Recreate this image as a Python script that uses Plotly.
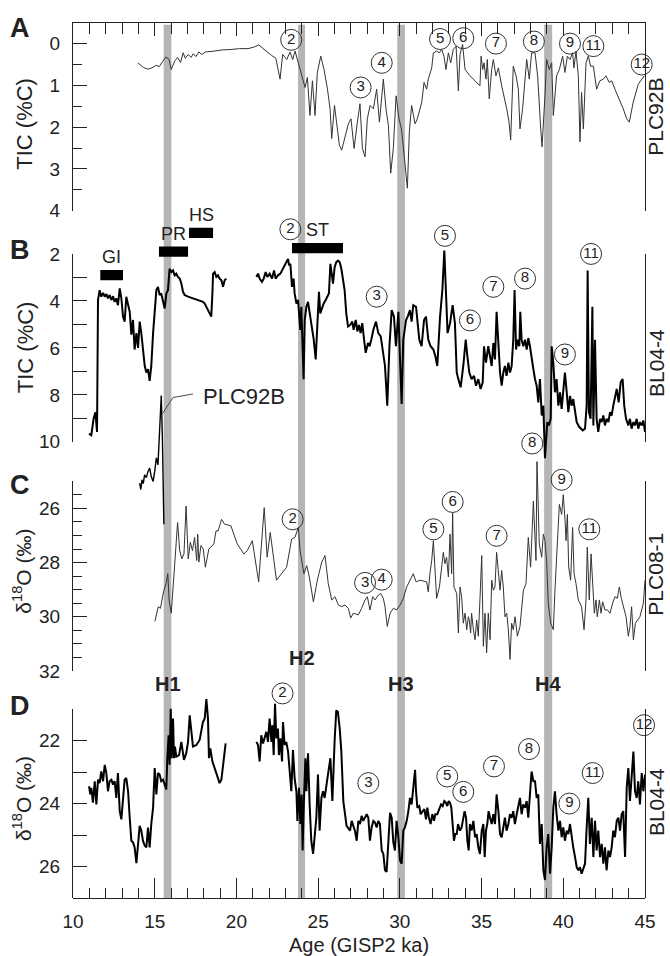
import plotly.graph_objects as go

FONT = "Liberation Sans, Arial, sans-serif"
INK = "#222222"

# ---------------- data ----------------
# Panel A: PLC92B TIC (%C)
A_age = [13.97, 14.31, 14.57, 14.83, 15.09, 15.28, 15.48, 15.69, 15.88, 16.01, 16.22, 16.40, 16.58, 16.74,
         16.87, 17.05, 17.23, 17.36, 17.52, 17.70, 17.89, 18.10, 18.62, 19.14, 19.66, 20.19, 20.71, 21.10,
         21.36, 21.62, 21.88, 22.14, 22.41, 22.67, 22.83, 23.08, 23.28, 23.44, 23.59, 23.79, 24.00, 24.20,
         24.34, 24.50, 24.65, 24.81, 24.95, 25.16, 25.36, 25.57, 25.73, 25.83, 26.00, 26.14, 26.30, 26.44,
         26.65, 26.85, 27.01, 27.20, 27.40, 27.56, 27.71, 27.87, 28.01, 28.18, 28.38, 28.58, 28.75, 28.89,
         28.99, 29.15, 29.30, 29.44, 29.60, 29.77, 29.95, 30.11, 30.26, 30.46, 30.58, 30.72, 30.93, 31.07,
         31.34, 31.48, 31.64, 31.74, 31.95, 32.05, 32.25, 32.42, 32.56, 32.70, 32.82, 32.97, 33.11, 33.27,
         33.44, 33.58, 33.68, 33.84, 33.99, 34.29, 34.60, 34.90, 34.97, 35.07, 35.15, 35.27, 35.35, 35.47,
         35.62, 35.72, 35.88, 36.03, 36.23, 36.37, 36.54, 36.68, 36.78, 36.94, 37.11, 37.25, 37.35, 37.51,
         37.76, 37.92, 38.06, 38.27, 38.43, 38.62, 38.70, 38.88, 38.98, 39.15, 39.29, 39.39, 39.59, 39.76,
         39.96, 40.10, 40.25, 40.41, 40.57, 40.65, 40.78, 40.92, 41.02, 41.12, 41.23, 41.39, 41.53, 41.67,
         41.84, 42.04, 42.24, 42.45, 42.61, 42.81, 42.96, 43.16, 43.37, 43.51, 43.67, 43.88, 44.04, 44.28,
         44.59, 44.96]
A_tic = [0.46, 0.57, 0.61, 0.58, 0.52, 0.55, 0.43, 0.32, 0.38, 0.62, 0.42, 0.33, 0.45, 0.22,
         0.35, 0.26, 0.33, 0.24, 0.31, 0.20, 0.26, 0.20, 0.18, 0.15, 0.14, 0.12, 0.12, 0.08,
         0.03, 0.12, 0.20, 0.28, 0.35, 0.85, 0.26, 0.38, 0.20, 0.38, 0.18, 0.46, 0.73, 1.05,
         0.81, 1.72, 0.89, 1.72, 0.69, 0.30, 0.62, 1.09, 1.56, 2.27, 1.48, 1.88, 2.43, 2.55,
         2.19, 1.92, 1.80, 2.51, 1.88, 1.44, 2.51, 2.71, 1.80, 1.48, 1.56, 1.09, 1.88, 1.25,
         0.85, 1.56, 1.96, 3.10, 2.51, 1.25, 1.80, 2.07, 2.67, 3.46, 2.11, 1.48, 1.92, 1.80,
         1.40, 0.93, 1.09, 0.85, 0.58, 0.22, 0.18, 0.22, 0.14, 0.30, 0.62, 0.22, 0.46, 0.14,
         0.06, 1.13, 0.26, 0.02, 0.62, 0.77, 0.89, 1.01, 0.30, 0.62, 0.46, 0.85, 0.38, 1.32,
         0.62, 0.38, 0.77, 0.58, 1.01, 1.25, 1.56, 1.88, 2.31, 0.54, 0.77, 1.09, 2.04, 1.56,
         0.38, 0.85, 0.22, 0.22, 0.77, 2.04, 2.47, 1.25, 0.38, 0.62, 0.46, 1.72, 0.77, 0.62,
         0.30, 0.69, 0.30, 0.38, 0.22, 0.58, 0.18, 0.77, 2.35, 1.17, 2.04, 0.46, 0.30, 0.54,
         0.54, 1.09, 0.89, 0.85, 0.77, 0.93, 0.89, 1.09, 1.28, 1.40, 1.56, 1.80, 1.88, 1.40,
         0.97, 0.77]

# Panel B: BL04-4 TIC (%C)  (None = core gap)
B_age = [10.98, 11.12, 11.26, 11.37, 11.47, 11.53, 11.63, 11.73, 11.84, 11.94, 12.04, 12.14, 12.24, 12.35,
         12.45, 12.55, 12.65, 12.75, 12.86, 12.96, 13.06, 13.16, 13.26, 13.37, 13.47, 13.57, 13.67, 13.77,
         13.88, 13.98, 14.08, 14.18, 14.28, 14.39, 14.49, 14.59, 14.69, 14.79, 14.90, 15.00, 15.10, 15.20,
         15.30, 15.40, 15.51, 15.61, 15.71, 15.81, 15.91, 16.02, 16.12, 16.22, 16.32, 16.42, 16.53, 16.63,
         16.73, 16.83, 17.04, 17.34, 17.75, 17.95, 18.06, 18.16, 18.26, 18.36, 18.46, 18.53, 18.57, 18.67,
         18.77, 18.87, 18.97, 19.08, 19.18, 19.28, 19.38, None,
         21.22, 21.32, 21.42, 21.56, 21.67, 21.79, 21.89, 22.03, 22.18, 22.30, 22.40, 22.54, 22.69, 22.81,
         22.95, 23.05, 23.16, 23.22, 23.30, 23.40, 23.50, 23.56, 23.67, 23.77, 23.83, 23.91, 23.97, 24.03,
         24.11, 24.18, 24.28, 24.38, 24.48, 24.64, 24.73, 24.85, 24.95, 25.05, 25.13, 25.26, 25.34, 25.46,
         25.54, 25.66, 25.75, 25.83, 25.91, 26.01, 26.11, 26.22, 26.32, 26.42, 26.52, 26.62, 26.72, 26.83,
         26.97, 27.09, 27.17, 27.30, 27.40, 27.50, 27.60, 27.70, 27.81, 27.91, 28.05, 28.15, 28.25, 28.38,
         28.54, 28.68, 28.83, 28.99, 29.09, 29.23, 29.36, 29.50, 29.64, 29.76, 29.91, 30.01, 30.11, 30.21,
         30.38, 30.48, 30.62, 30.72, 30.82, 30.99, 31.07, 31.19, 31.33, 31.48, 31.60, 31.74, 31.88, 32.05,
         32.17, 32.29, 32.46, 32.60, 32.72, 32.82, 32.92, 33.07, 33.23, 33.37, 33.48, 33.58, 33.72, 33.88,
         34.03, 34.13, 34.25, 34.39, 34.54, 34.66, 34.80, 34.94, 35.07, 35.15, 35.27, 35.41, 35.52, 35.62,
         35.72, 35.82, 35.92, 36.03, 36.13, 36.23, 36.33, 36.43, 36.53, 36.64, 36.74, 36.84, 36.94, 37.02,
         37.11, 37.21, 37.31, 37.37, 37.45, 37.55, 37.66, 37.76, 37.86, 37.96, 38.06, 38.17, 38.27, 38.37,
         38.47, 38.57, 38.68, 38.78, 38.88, 38.94, 39.02, 39.12, 39.23, 39.29, 39.39, 39.49, 39.59, 39.70,
         39.80, 39.90, 40.00, 40.10, 40.21, 40.31, 40.41, 40.51, 40.61, 40.72, 40.82, 40.98, 41.19, 41.33,
         41.43, 41.49, 41.57, 41.67, 41.78, 41.84, 41.94, 42.04, 42.14, 42.25, 42.35, 42.45, 42.55, 42.65,
         42.76, 42.86, 42.96, 43.06, 43.16, 43.27, 43.39, 43.51, 43.63, 43.73, 43.84, 43.98, 44.08, 44.18,
         44.29, 44.39, 44.49, 44.59, 44.69, 44.80, 44.90, 45.00]
B_tic = [9.65, 9.72, 9.02, 8.74, 9.58, 3.96, 3.54, 3.82, 3.66, 3.82, 3.71, 3.89, 3.75, 3.96,
         3.80, 4.04, 3.89, 4.18, 3.47, 3.89, 4.67, 4.88, 3.82, 4.11, 4.46, 5.44, 4.81, 6.07,
         5.37, 6.00, 4.88, 5.37, 6.21, 6.77, 7.05, 6.91, 7.40, 6.77, 5.37, 4.25, 3.54, 3.40,
         3.75, 3.68, 4.11, 4.32, 3.68, 3.54, 2.63, 2.77, 2.70, 2.91, 2.84, 2.98, 3.05, 3.26,
         3.61, 3.75, 3.82, 3.89, 3.99, 4.04, 4.11, 4.25, 4.39, 4.53, 4.67, 3.68, 2.84, 2.77,
         2.98, 2.91, 3.05, 3.12, 3.40, 3.12, 3.05, None,
         2.98, 2.84, 3.05, 3.19, 3.05, 2.77, 2.98, 2.84, 3.05, 2.70, 3.05, 2.91, 2.84, 2.70,
         2.49, 2.35, 2.21, 2.49, 2.42, 3.40, 3.05, 3.68, 4.11, 3.96, 4.39, 5.23, 4.25, 5.86,
         7.33, 4.81, 4.25, 4.04, 4.53, 5.37, 5.65, 6.49, 4.81, 3.61, 4.53, 4.25, 4.11, 3.96,
         3.82, 3.68, 2.42, 2.98, 3.26, 2.56, 2.35, 2.28, 2.35, 2.63, 3.05, 3.54, 4.53, 5.09,
         5.02, 4.88, 5.23, 4.81, 5.30, 5.02, 5.37, 4.95, 5.65, 6.21, 5.79, 5.93, 5.65, 5.23,
         4.88, 5.37, 5.51, 6.21, 6.77, 8.46, 5.96, 4.39, 4.67, 5.93, 4.46, 6.49, 8.39, 5.65,
         4.81, 4.67, 4.39, 4.88, 4.18, 4.25, 4.81, 5.65, 5.93, 4.81, 4.67, 5.65, 5.93, 6.07,
         6.35, 6.77, 4.67, 3.54, 1.86, 3.54, 5.37, 4.95, 4.18, 4.95, 7.05, 7.33, 7.68, 6.77,
         5.65, 6.35, 7.05, 7.33, 7.19, 7.61, 7.33, 7.75, 7.47, 5.93, 6.63, 5.93, 6.35, 6.77,
         5.79, 6.49, 4.46, 5.93, 7.05, 7.61, 7.05, 6.77, 7.19, 6.63, 7.05, 6.77, 5.65, 3.54,
         6.07, 5.65, 5.93, 4.46, 5.65, 5.93, 5.65, 6.07, 5.58, 5.93, 6.49, 6.91, 7.33, 7.61,
         8.32, 7.33, 8.88, 8.46, 10.70, 9.86, 9.16, 9.30, 9.02, 5.93, 6.63, 7.89, 7.33, 8.46,
         7.89, 8.60, 7.75, 7.05, 7.89, 8.74, 8.04, 8.46, 8.18, 8.74, 9.16, 9.37, 9.51, 9.44,
         8.46, 2.70, 8.74, 9.02, 4.25, 9.30, 5.65, 9.02, 9.58, 9.02, 9.16, 8.88, 9.30, 9.02,
         9.16, 8.74, 8.88, 8.46, 8.18, 7.75, 8.32, 7.47, 7.33, 8.46, 9.02, 9.30, 9.02, 9.44,
         9.16, 9.30, 9.02, 9.44, 9.16, 9.30, 9.09, 9.58]

# Panel C: PLC08-1 d18O (permil)
C_age = [15.01, 15.22, 15.35, 15.54, 15.69, 15.80, 15.88, 16.01, 16.14, 16.27, 16.40, 16.53, 16.66, 16.79,
         16.92, 17.05, 17.18, 17.31, 17.44, 17.57, 17.63, 17.70, 17.83, 17.97, 18.10, 18.31, 18.62, 18.75,
         18.88, 19.09, 19.27, 19.66, 20.05, 20.45, 20.66, 20.97, 21.36, 21.70, 21.88, 22.07, 22.45, 23.07,
         23.38, 23.58, 23.73, 23.79, 23.89, 24.03, 24.13, 24.30, 24.46, 24.71, 24.95, 25.22, 25.42, 25.62,
         25.83, 26.03, 26.24, 26.44, 26.64, 26.85, 26.99, 27.15, 27.46, 27.66, 27.87, 28.01, 28.17, 28.34,
         28.48, 28.68, 28.83, 28.99, 29.09, 29.23, 29.40, 29.60, 29.80, 30.01, 30.21, 30.42, 30.62, 30.82,
         30.99, 31.23, 31.64, 31.74, 31.84, 31.95, 32.05, 32.15, 32.25, 32.42, 32.56, 32.66, 32.76, 32.86,
         32.97, 33.07, 33.17, 33.23, 33.31, 33.48, 33.58, 33.68, 33.78, 33.88, 33.99, 34.09, 34.19, 34.25,
         34.33, 34.39, 34.50, 34.60, 34.70, 34.80, 34.90, 35.01, 35.11, 35.21, 35.31, 35.41, 35.52, 35.62,
         35.72, 35.82, 35.92, 36.03, 36.13, 36.23, 36.33, 36.43, 36.54, 36.64, 36.74, 36.84, 36.94, 37.05,
         37.19, 37.35, 37.56, 37.72, 37.86, 38.00, 38.17, 38.33, 38.39, 38.53, 38.68, 38.78, 38.88, 38.98,
         39.08, 39.23, 39.39, 39.49, 39.64, 39.76, 39.90, 40.00, 40.11, 40.17, 40.25, 40.33, 40.45, 40.57,
         40.66, 40.78, 40.92, 41.12, 41.27, 41.39, 41.47, 41.59, 41.70, 41.80, 41.90, 42.00, 42.08, 42.21,
         42.31, 42.41, 42.55, 42.70, 42.86, 43.02, 43.16, 43.31, 43.43, 43.55, 43.67, 43.84, 43.98, 44.08,
         44.18, 44.29, 44.41, 44.53, 44.69, 44.90, 45.00]
C_d18o = [30.17, 29.63, 29.69, 29.08, 28.78, 28.41, 29.38, 29.87, 28.78, 27.43, 26.52, 27.56, 27.86, 27.68,
          25.91, 27.86, 27.25, 27.56, 27.07, 27.92, 26.95, 27.98, 27.37, 27.50, 28.17, 27.50, 27.31, 26.83,
          26.83, 26.40, 26.58, 26.64, 27.31, 27.68, 27.56, 27.19, 28.71, 25.97, 27.80, 26.89, 28.65, 28.17,
          27.13, 27.07, 26.76, 26.70, 27.56, 28.17, 28.41, 28.11, 28.53, 29.45, 28.65, 27.98, 27.74, 28.78,
          29.38, 29.26, 29.57, 29.63, 29.57, 29.69, 30.05, 29.87, 29.93, 29.69, 29.38, 29.26, 29.75, 29.26,
          29.38, 29.20, 29.14, 29.32, 29.63, 30.36, 29.87, 29.69, 29.75, 29.57, 29.32, 28.90, 28.65, 28.41,
          28.71, 28.65, 28.71, 29.08, 28.41, 27.92, 27.19, 28.41, 29.32, 28.90, 28.17, 27.62, 28.04, 27.80,
          28.53, 26.95, 28.41, 26.16, 28.90, 29.14, 30.60, 28.90, 29.26, 30.24, 29.87, 30.48, 30.00, 30.12,
          30.60, 29.87, 30.48, 30.85, 30.12, 30.72, 29.38, 27.74, 31.09, 29.87, 31.33, 29.87, 30.85, 28.65,
          29.02, 28.90, 27.62, 28.41, 29.02, 28.29, 28.90, 30.00, 29.87, 30.48, 31.58, 30.24, 30.48, 30.00,
          30.72, 30.36, 29.02, 28.78, 27.07, 28.17, 25.73, 27.92, 24.27, 27.31, 27.80, 26.95, 27.19, 27.92,
          29.50, 30.24, 30.48, 29.02, 27.19, 25.85, 26.22, 25.49, 26.46, 27.19, 26.22, 28.17, 28.65, 26.70,
          28.41, 28.78, 29.38, 29.63, 30.48, 29.38, 27.43, 29.38, 27.68, 28.78, 29.87, 29.38, 30.00, 29.38,
          29.87, 29.45, 29.75, 29.75, 29.87, 29.50, 29.26, 29.32, 28.90, 29.32, 29.63, 30.00, 30.72, 30.36,
          29.63, 30.85, 30.24, 30.12, 30.00, 29.50, 28.65]

# PLC92B d18O inset (plotted on the panel C scale)
inset_age = [14.08, 14.15, 14.22, 14.30, 14.38, 14.49, 14.59, 14.69, 14.79, 14.90, 15.00, 15.10, 15.20,
             15.30, 15.40, 15.47, 15.51, 15.56]
inset_d18o = [25.06, 25.30, 24.94, 25.08, 24.76, 24.86, 24.63, 24.51, 24.82, 25.00, 24.63, 24.13, 24.39,
              22.81, 21.83, 23.40, 25.12, 26.58]

# Panel D: BL04-4 d18O (permil)
D_age = [10.98, 11.06, 11.12, 11.22, 11.33, 11.43, 11.53, 11.63, 11.73, 11.84, 11.94, 12.04, 12.14, 12.24,
         12.35, 12.45, 12.55, 12.65, 12.75, 12.86, 12.96, 13.06, 13.16, 13.26, 13.37, 13.47, 13.57, 13.67,
         13.77, 13.88, 13.98, 14.08, 14.18, 14.28, 14.39, 14.49, 14.59, 14.69, 14.79, 14.90, 15.00, 15.10,
         15.20, 15.30, 15.40, 15.51, 15.61, 15.71, 15.77, 15.85, 15.91, 15.98, 16.04, 16.12, 16.18, 16.24,
         16.32, 16.49, 16.63, 16.79, 16.93, 17.04, 17.14, 17.24, 17.34, 17.55, 17.75, 17.95, 18.06, 18.16,
         18.26, 18.32, 18.40, 18.53, 18.67, 18.77, 18.87, 18.97, 19.08, 19.14, 19.22, 19.34, None,
         21.22, 21.32, 21.42, 21.52, 21.63, 21.73, 21.83, 21.93, 22.03, 22.14, 22.20, 22.28, 22.36, 22.44,
         22.54, 22.60, 22.69, 22.79, 22.85, 22.95, 23.05, 23.16, 23.26, 23.36, 23.46, 23.56, 23.67, 23.73,
         23.83, 23.91, 23.99, 24.05, 24.13, 24.22, 24.28, 24.38, 24.48, 24.58, 24.69, 24.79, 24.89, 24.99,
         25.09, 25.20, 25.30, 25.40, 25.50, 25.60, 25.75, 25.87, 26.01, 26.11, 26.21, 26.32, 26.42, 26.54,
         26.74, 26.95, 27.05, 27.25, 27.36, 27.46, 27.56, 27.66, 27.76, 27.87, 27.97, 28.07, 28.17, 28.27,
         28.38, 28.48, 28.58, 28.68, 28.78, 28.89, 28.99, 29.09, 29.19, 29.29, 29.40, 29.50, 29.60, 29.70,
         29.80, 29.91, 30.01, 30.11, 30.21, 30.31, 30.42, 30.52, 30.62, 30.72, 30.82, 30.93, 30.99, 31.07,
         31.19, 31.27, 31.40, 31.50, 31.60, 31.68, 31.78, 31.88, 31.99, 32.09, 32.17, 32.29, 32.41, 32.52,
         32.62, 32.72, 32.82, 32.90, 32.99, 33.07, 33.15, 33.23, 33.31, 33.39, 33.48, 33.56, 33.68, 33.78,
         33.88, 33.96, 34.05, 34.13, 34.21, 34.29, 34.39, 34.50, 34.60, 34.70, 34.80, 34.90, 35.01, 35.11,
         35.19, 35.27, 35.35, 35.43, 35.52, 35.62, 35.72, 35.82, 35.92, 36.03, 36.13, 36.23, 36.33, 36.43,
         36.53, 36.64, 36.74, 36.84, 36.94, 37.04, 37.15, 37.25, 37.35, 37.45, 37.55, 37.66, 37.76, 37.86,
         37.96, 38.06, 38.17, 38.27, 38.37, 38.47, 38.57, 38.68, 38.78, 38.88, 38.98, 39.08, 39.19, 39.29,
         39.39, 39.49, 39.59, 39.70, 39.80, 39.90, 40.00, 40.10, 40.21, 40.31, 40.41, 40.51, 40.61, 40.72,
         40.82, 40.92, 41.02, 41.12, 41.23, 41.33, 41.43, 41.53, 41.63, 41.74, 41.84, 41.94, 42.04, 42.14,
         42.25, 42.35, 42.45, 42.55, 42.65, 42.76, 42.86, 42.96, 43.06, 43.16, 43.27, 43.37, 43.47, 43.57,
         43.67, 43.78, 43.88, 43.98, 44.08, 44.18, 44.29, 44.39, 44.49, 44.59, 44.69, 44.80, 44.90, 45.00]
D_d18o = [23.45, 23.71, 23.50, 23.97, 23.29, 24.03, 23.24, 23.35, 22.98, 23.29, 22.77, 23.03, 23.61, 23.29,
          23.24, 23.40, 23.29, 23.82, 23.03, 24.24, 24.50, 23.82, 23.24, 23.19, 23.61, 24.45, 25.18, 25.23,
          25.39, 25.89, 25.18, 24.71, 24.86, 25.18, 25.34, 25.39, 24.76, 25.39, 24.65, 24.13, 22.87, 23.71,
          23.03, 23.08, 23.29, 23.24, 23.40, 23.55, 22.56, 21.83, 22.77, 20.99, 22.56, 21.30, 22.56, 22.19,
          22.51, 22.46, 22.04, 22.61, 22.40, 22.04, 21.20, 21.83, 22.19, 22.14, 21.98, 21.41, 21.30, 20.68,
          21.30, 22.56, 22.25, 22.66, 22.87, 23.08, 23.24, 23.35, 23.24, 22.98, 22.56, 22.09, None,
          22.04, 22.14, 22.66, 21.83, 22.09, 21.93, 21.72, 22.04, 21.30, 22.04, 21.51, 22.46, 20.83, 21.93,
          21.62, 22.46, 21.93, 22.66, 21.41, 22.14, 22.04, 22.35, 22.87, 23.61, 22.30, 23.19, 23.61, 24.55,
          23.50, 24.65, 23.71, 25.49, 23.92, 22.56, 23.61, 22.40, 24.03, 25.18, 25.60, 24.97, 24.45, 23.08,
          24.86, 23.82, 23.61, 23.82, 23.40, 23.08, 22.56, 23.92, 21.98, 21.04, 21.09, 21.62, 22.35, 23.92,
          24.71, 24.86, 24.55, 24.86, 25.18, 24.55, 24.65, 24.39, 24.55, 24.45, 24.34, 24.45, 25.18, 24.76,
          24.55, 24.60, 24.76, 24.55, 24.65, 25.49, 25.60, 26.12, 26.17, 25.28, 24.29, 24.45, 25.23, 25.49,
          24.55, 25.07, 25.81, 25.91, 24.86, 24.76, 24.55, 24.24, 23.82, 24.03, 23.50, 22.93, 23.61, 24.13,
          24.08, 24.34, 24.24, 24.18, 24.50, 24.13, 24.45, 24.65, 24.34, 24.55, 24.34, 24.34, 24.18, 24.03,
          24.08, 23.92, 23.97, 24.08, 23.92, 23.97, 24.13, 24.65, 25.18, 24.97, 24.97, 24.65, 24.86, 24.76,
          24.45, 24.24, 24.45, 25.18, 25.49, 24.65, 24.86, 24.55, 25.07, 24.97, 25.39, 25.60, 24.86, 24.65,
          25.70, 24.86, 24.65, 24.24, 24.45, 24.65, 24.34, 24.65, 23.71, 24.24, 24.97, 25.07, 24.76, 24.45,
          24.86, 24.65, 24.34, 24.45, 24.24, 24.65, 24.34, 24.13, 23.82, 24.34, 24.03, 24.13, 23.92, 24.45,
          23.61, 22.98, 23.29, 23.29, 23.82, 23.71, 25.28, 24.65, 26.12, 26.43, 25.39, 24.97, 26.23, 25.39,
          24.13, 23.61, 24.34, 24.86, 24.55, 25.07, 24.76, 25.18, 24.86, 24.97, 24.65, 25.07, 25.39, 25.70,
          26.02, 26.12, 26.02, 26.23, 26.02, 25.91, 24.76, 23.82, 25.28, 24.45, 25.70, 24.55, 25.49, 24.86,
          25.70, 25.28, 25.91, 25.39, 26.12, 25.49, 25.70, 25.39, 24.86, 25.07, 24.55, 24.45, 24.86, 24.34,
          24.24, 25.70, 23.50, 22.87, 23.92, 23.08, 22.35, 23.61, 23.82, 23.29, 24.03, 23.03, 23.61, 23.08]

# Heinrich events (ka)
heinrich_names = ["H1", "H2", "H3", "H4"]
heinrich_start = [15.55, 23.77, 29.84, 38.83]
heinrich_end = [16.02, 24.20, 30.31, 39.32]

# Interval bars (ka)
bar_names = ["GI", "PR", "HS", "ST"]
bar_start = [11.67, 15.26, 17.10, 23.40]
bar_end = [13.06, 17.04, 18.57, 26.52]

# Numbered events: (age, value) on each panel
A_ev = ["2", "3", "4", "5", "6", "7", "8", "9", "11", "12"]
A_ev_age = [23.35, 27.60, 28.89, 32.46, 33.88, 35.88, 38.20, 40.41, 41.84, 44.80]
A_ev_val = [-0.09, 1.05, 0.46, -0.11, -0.13, 0.00, -0.05, 0.00, 0.06, 0.50]
B_ev = ["2", "3", "5", "6", "7", "8", "9", "11"]
B_ev_age = [23.30, 28.58, 32.76, 34.29, 35.72, 37.66, 40.10, 41.70]
B_ev_val = [0.95, 3.82, 1.23, 4.83, 3.40, 3.05, 6.28, 2.00]
C_ev = ["2", "3", "4", "5", "6", "7", "8", "9", "11"]
C_ev_age = [23.44, 27.87, 28.89, 32.05, 33.23, 35.92, 38.10, 39.90, 41.59]
C_ev_val = [26.40, 28.75, 28.63, 26.77, 25.76, 27.01, 23.60, 24.94, 26.77]
D_ev = ["2", "3", "5", "6", "7", "8", "9", "11", "12"]
D_ev_age = [22.82, 28.07, 32.90, 33.88, 35.76, 37.90, 40.37, 41.80, 44.94]
D_ev_val = [20.50, 23.35, 23.14, 23.63, 22.82, 22.27, 24.00, 23.03, 21.51]

x_ticks = [10, 15, 20, 25, 30, 35, 40, 45]

# ---------------- layout helpers ----------------
W, H = 670, 956
ML, MR, MT, MB = 73, 25, 0, 58
PW, PH = W - ML - MR, H - MT - MB


def py(p):
    return (H - MB - p) / PH


def pxp(p):
    return (p - ML) / PW


def geom(v1, p1, v2, p2, vtop, vbot):
    s = (p2 - p1) / (v2 - v1)
    ptop = p1 + (vtop - v1) * s
    pbot = p1 + (vbot - v1) * s
    return dict(domain=[py(pbot), py(ptop)], range=[vbot, vtop])


A_map = (0, 34, 4, 203)
B_map = (2, 246.7, 10, 436.7)
C_map = (25, 476.7, 32, 668.3)
D_map = (21, 707, 27, 898)

fig = go.Figure()

thin = dict(color="#333333", width=1)
thick = dict(color="black", width=2)
fig.add_trace(go.Scatter(x=A_age, y=A_tic, xaxis="x2", yaxis="y", mode="lines", line=thin))
fig.add_trace(go.Scatter(x=B_age, y=B_tic, xaxis="x", yaxis="y2", mode="lines", line=thick, connectgaps=False))
fig.add_trace(go.Scatter(x=C_age, y=C_d18o, xaxis="x", yaxis="y3", mode="lines", line=thin))
fig.add_trace(go.Scatter(x=inset_age, y=inset_d18o, xaxis="x", yaxis="y3", mode="lines",
                         line=dict(color="black", width=1.4)))
leader_age = [15.47, 16.12, 17.34]
leader_val = [22.50, 21.90, 21.77]
fig.add_trace(go.Scatter(x=leader_age, y=leader_val, xaxis="x", yaxis="y3", mode="lines",
                         line=dict(color="#333333", width=0.9)))
fig.add_trace(go.Scatter(x=D_age, y=D_d18o, xaxis="x", yaxis="y4", mode="lines", line=thick, connectgaps=False))

# invisible anchors so the bracket (tick) axes of panels B-D get drawn
for ax, yv in [("y5", 6), ("y6", 28), ("y7", 24)]:
    fig.add_trace(go.Scatter(x=[27], y=[yv], xaxis="x", yaxis=ax, mode="markers",
                             marker=dict(size=1, opacity=0)))

for labels, xs, ys, ax in [(A_ev, A_ev_age, A_ev_val, "y"), (B_ev, B_ev_age, B_ev_val, "y2"),
                           (C_ev, C_ev_age, C_ev_val, "y3"), (D_ev, D_ev_age, D_ev_val, "y4")]:
    fig.add_trace(go.Scatter(
        x=xs, y=ys, text=labels, xaxis="x2" if ax == "y" else "x", yaxis=ax,
        mode="markers+text", textposition="middle center", cliponaxis=False,
        textfont=dict(family=FONT, size=15, color=INK),
        marker=dict(symbol="circle-open", size=21, color="#333333", line=dict(width=1, color="#333333"))))

# ---------------- shapes ----------------
shapes = []
for s, e in zip(heinrich_start, heinrich_end):
    shapes.append(dict(type="rect", xref="x", yref="paper", x0=s, x1=e, y0=0, y1=py(15),
                       fillcolor="#b5b5b5", line=dict(width=0), layer="below"))
bar_level = [2.9, 1.9, 1.1, 1.75]
for s, e, lv in zip(bar_start, bar_end, bar_level):
    shapes.append(dict(type="rect", xref="x", yref="y2", x0=s, x1=e, y0=lv - 0.22, y1=lv + 0.22,
                       fillcolor="black", line=dict(width=0), layer="above"))

# ---------------- annotations ----------------
ann = []


def text(x, y, t, size=20, bold=False, angle=0, xref="paper", yref="paper", xanchor="center", yanchor="middle"):
    ann.append(dict(x=x, y=y, xref=xref, yref=yref, text=("<b>%s</b>" % t) if bold else t, showarrow=False,
                    textangle=angle, xanchor=xanchor, yanchor=yanchor,
                    font=dict(family=FONT, size=size, color=INK)))


for letter, ypix in zip(["A", "B", "C", "D"], [18, 243, 480, 704]):
    text(pxp(20), py(ypix), letter, size=27, bold=True)
text(pxp(25), py(115), "TIC (%C)", size=22, angle=-90)
text(pxp(25), py(341), "TIC (%C)", size=22, angle=-90)
text(pxp(22), py(568), "δ<sup>18</sup>O (‰)", size=21, angle=-90)
text(pxp(22), py(798), "δ<sup>18</sup>O (‰)", size=21, angle=-90)
for lab, ypix in zip(["PLC92B", "BL04-4", "PLC08-1", "BL04-4"], [108, 357, 571, 801]):
    text(pxp(656), py(ypix), lab, size=21, angle=-90)
text(pxp(359), py(946), "Age (GISP2 ka)", size=20)
for nm, s, e, ypix in zip(heinrich_names, heinrich_start, heinrich_end, [682, 655, 682, 682]):
    text((s + e) / 2, py(ypix), nm, size=20, bold=True, xref="x")
for nm, s, e, lv in zip(bar_names, bar_start, bar_end, bar_level):
    text((s + e) / 2, lv - 0.75, nm, size=18, xref="x", yref="y2")
text(17.85, 21.85, "PLC92B", size=22, xref="x", yref="y3", xanchor="left")

# ---------------- axes ----------------
tf = dict(family=FONT, size=19, color=INK)
common_y = dict(anchor="x", showgrid=False, zeroline=False, linecolor=INK, linewidth=1.2,
                ticks="inside", tickcolor=INK, tickwidth=1.2, ticklen=14, tickfont=tf, ticklabelstandoff=8)
hidden_y = dict(anchor="x", visible=False, showgrid=False, zeroline=False)

layout = dict(
    width=W, height=H, margin=dict(l=ML, r=MR, t=MT, b=MB),
    paper_bgcolor="white", plot_bgcolor="rgba(0,0,0,0)", showlegend=False,
    xaxis=dict(range=[10, 45], domain=[0, 1], anchor="free", position=0, showline=True, linecolor=INK,
               linewidth=1.2, showgrid=False, zeroline=False, ticks="inside", ticklen=20, tickwidth=1.2,
               tickcolor=INK, tickvals=x_ticks, tickfont=tf, ticklabelstandoff=6,
               minor=dict(tickvals=[v for v in range(10, 46) if v % 5], ticks="inside", ticklen=10,
                          tickcolor=INK, tickwidth=1.2)),
    xaxis2=dict(range=[10, 45], overlaying="x", side="top", anchor="y", showline=True, linecolor=INK,
                linewidth=1.2, showgrid=False, zeroline=False, ticks="inside", ticklen=13, tickwidth=1.2,
                tickcolor=INK, tickvals=x_ticks, showticklabels=False,
                minor=dict(tickvals=[v for v in range(10, 46) if v % 5], ticks="inside", ticklen=11,
                           tickcolor=INK, tickwidth=1.2)),
    yaxis=dict(**common_y, **geom(*A_map, -0.5, 4), showline=True, mirror=True, tickvals=[0, 1, 2, 3, 4],
               minor=dict(tickvals=[0.5, 1.5, 2.5, 3.5], ticks="inside", ticklen=9, tickcolor=INK, tickwidth=1.2)),
    yaxis2=dict(**hidden_y, **geom(*B_map, 0.0, 11.0)),
    yaxis3=dict(**hidden_y, **geom(*C_map, 21.5, 32)),
    yaxis4=dict(**hidden_y, **geom(*D_map, 20.3, 27)),
    yaxis5=dict(**common_y, **geom(*B_map, 2, 10), showline=True, mirror=True, tickvals=[2, 4, 6, 8, 10],
                minor=dict(tickvals=[3, 5, 7, 9], ticks="inside", ticklen=14, tickcolor=INK, tickwidth=1.2)),
    yaxis6=dict(**common_y, **geom(*C_map, 25, 32), showline=True, mirror=True, tickvals=[26, 28, 30, 32],
                minor=dict(tickvals=[25, 25.5, 26.5, 27, 27.5, 28.5, 29, 29.5, 30.5, 31, 31.5], ticks="inside",
                           ticklen=9, tickcolor=INK, tickwidth=1.2)),
    yaxis7=dict(**common_y, **geom(*D_map, 21, 27), showline=True, mirror=True, tickvals=[22, 24, 26],
                minor=dict(tickvals=[21, 23, 25], ticks="inside", ticklen=14, tickcolor=INK, tickwidth=1.2)),
    shapes=shapes, annotations=ann,
)
fig.update_layout(**layout)
fig.update_traces(hoverinfo="skip")
fig.write_html("out.html")
